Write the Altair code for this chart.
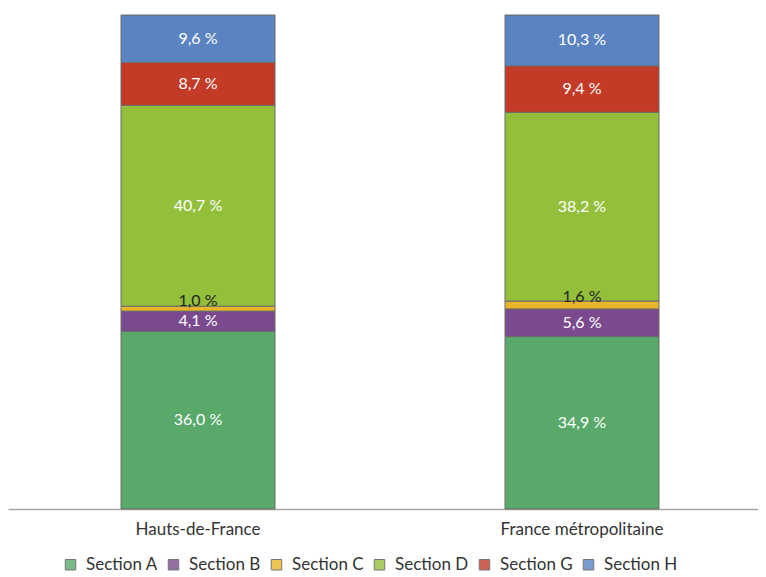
import altair as alt
import pandas as pd

regions = ["Hauts-de-France", "France métropolitaine"]
sections = ["Section A", "Section B", "Section C", "Section D", "Section G", "Section H"]
hdf_values = [36.0, 4.1, 1.0, 40.7, 8.7, 9.6]
fm_values = [34.9, 5.6, 1.6, 38.2, 9.4, 10.3]
colors = ["#58a96a", "#7b4a8e", "#e9b52a", "#93bf3b", "#c33a26", "#5a83c2"]

rows = []
for reg, vals in zip(regions, [hdf_values, fm_values]):
    for i, (s, v) in enumerate(zip(sections, vals)):
        rows.append({"region": reg, "section": s, "value": v, "order": i,
                     "label": f"{v:.1f} %".replace(".", ",")})
df = pd.DataFrame(rows)

FONT = "Lato"

base = alt.Chart(df).transform_stack(
    stack="value", groupby=["region"], as_=["y0", "y1"],
    sort=[alt.SortField("order", order="ascending")], offset="normalize"
).transform_calculate(mid="(datum.y0 + datum.y1) / 2")

x_scale = alt.Scale(paddingInner=0.6, paddingOuter=0.2766, align=0.533)

x_enc = alt.X("region:N", sort=regions, title=None, scale=x_scale,
              axis=alt.Axis(labelAngle=0, ticks=False, domainColor="#a8a8a8",
                            domainWidth=1.5, labelFont=FONT, labelFontSize=17,
                            labelColor="#333333", labelPadding=12))

bars = base.mark_bar(size=154, stroke="#6b6b6b", strokeWidth=1).encode(
    x=x_enc,
    y=alt.Y("y0:Q", scale=alt.Scale(domain=[0, 1]), axis=None),
    y2="y1:Q",
    color=alt.Color("section:N", sort=sections,
                    scale=alt.Scale(domain=sections, range=colors),
                    legend=alt.Legend(title=None, orient="none", legendX=54, legendY=541,
                                      direction="horizontal", columns=6,
                                      symbolType="square", symbolSize=110,
                                      symbolStrokeColor="#555555", symbolStrokeWidth=1,
                                      symbolOpacity=0.8,
                                      labelFont=FONT, labelFontSize=17, labelColor="#333333",
                                      columnPadding=7, labelOffset=7)),
)

white_labels = base.transform_filter("datum.section != 'Section C'").mark_text(
    font=FONT, fontSize=16, color="white"
).encode(x=alt.X("region:N", sort=regions, scale=x_scale), y="mid:Q", text="label:N")

c_labels = base.transform_filter("datum.section == 'Section C'").mark_text(
    font=FONT, fontSize=16, color="#222222", dy=-8
).encode(x=alt.X("region:N", sort=regions, scale=x_scale), y="mid:Q", text="label:N")

chart = (bars + white_labels + c_labels).properties(
    width=750, height=494, padding={"left": 0, "right": 0, "top": 6, "bottom": 0}
).configure_view(stroke=None)

chart.save("out.html", embed_options={"renderer": "svg", "actions": False})
